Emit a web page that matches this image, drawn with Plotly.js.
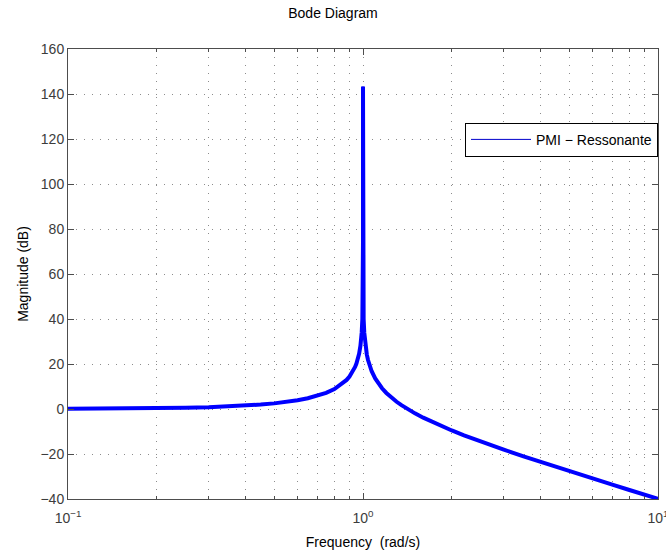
<!DOCTYPE html>
<html>
<head>
<meta charset="utf-8">
<script src="https://cdn.plot.ly/plotly-3.0.1.min.js"></script>
<style>html,body{margin:0;padding:0;background:#fff;}#chart{width:666px;height:551px;}</style>
</head>
<body>
<div id="chart"></div>
<script>
// Frequency points (rad/s) and magnitude (dB)
const freq = [0.1, 0.12, 0.15, 0.2, 0.25, 0.3, 0.35, 0.4, 0.45, 0.5, 0.55, 0.6, 0.65, 0.7, 0.75, 0.8, 0.85, 0.88, 0.9, 0.92, 0.94, 0.95, 0.96, 0.97, 0.98, 0.985, 0.99, 0.995, 0.998, 0.999, 0.9995, 0.9999, 1.0,
              1.0001, 1.0005, 1.001, 1.002, 1.005, 1.01, 1.015, 1.02, 1.03, 1.04, 1.05, 1.07, 1.1, 1.13, 1.16, 1.2, 1.25, 1.3, 1.35, 1.4, 1.45, 1.5, 1.6, 1.7, 1.8, 2.0, 2.2, 2.5, 2.8, 3.0, 3.5, 4.0, 4.5, 5.0, 6.0, 7.0, 8.0, 9.0, 10.0];
const magDb = [0.09, 0.13, 0.2, 0.36, 0.56, 0.82, 1.14, 1.51, 1.97, 2.5, 3.13, 3.88, 4.77, 5.85, 7.18, 8.87, 11.13, 12.93, 14.42, 16.27, 18.68, 20.22, 22.11, 24.57, 28.05, 30.52, 34.02, 40.02, 47.97, 53.98, 60.0, 73.98, 143.3,
              73.98, 60.0, 53.97, 47.95, 39.98, 33.94, 30.39, 27.87, 24.31, 21.77, 19.79, 16.78, 13.56, 11.15, 9.23, 7.13, 5.0, 3.22, 1.7, 0.35, -0.85, -1.94, -3.86, -5.53, -7.0, -9.54, -11.69, -14.4, -16.7, -18.06, -21.02, -23.52, -25.69, -27.6, -30.88, -33.62, -35.99, -38.06, -39.91];
const seriesName = 'PMI \u2212 Ressonante';
const yTicks = [-40, -20, 0, 20, 40, 60, 80, 100, 120, 140, 160];
const xTicks = [0.1, 1, 10];
const xTickText = ['10<sup>\u22121</sup>', '10<sup>0</sup>', '10<sup>1</sup>'];

const gridCol = '#8c8c8c';
const axisCol = '#4d4d4d';
const fam = 'Liberation Sans, Arial, sans-serif';
const tickFont = {family: fam, size: 14, color: '#3c3c3c'};

const traces = [
  {x: freq, y: magDb, type: 'scatter', mode: 'lines', name: seriesName,
   line: {color: '#0000cc', width: 1}, showlegend: true},
  {x: freq, y: magDb, type: 'scatter', mode: 'lines', name: seriesName,
   line: {color: '#0000ff', width: 4}, showlegend: false}
];

const layout = {
  width: 666, height: 551,
  margin: {l: 68, r: 8, t: 49, b: 52},
  paper_bgcolor: '#ffffff', plot_bgcolor: '#ffffff',
  font: {family: fam, size: 14, color: '#000'},
  title: {text: 'Bode Diagram', font: {family: fam, size: 14, color: '#000'}, x: 0.5, xanchor: 'center', y: 0.985, yanchor: 'top'},
  xaxis: {
    type: 'log', range: [-1, 1], tickvals: xTicks, ticktext: xTickText,
    ticklabeloverflow: 'allow', ticklabelstandoff: 6,
    showline: true, linecolor: axisCol, linewidth: 1, mirror: 'ticks',
    ticks: 'inside', ticklen: 6, tickcolor: axisCol,
    showgrid: true, gridcolor: gridCol, griddash: '1px,7px', gridwidth: 1,
    minor: {dtick: 'D1', ticks: 'inside', ticklen: 3, tickcolor: axisCol, showgrid: true, gridcolor: gridCol, griddash: '1px,7px', gridwidth: 1},
    zeroline: false,
    tickfont: tickFont,
    title: {text: 'Frequency  (rad/s)', font: {family: fam, size: 14, color: '#000'}, standoff: 12}
  },
  yaxis: {
    range: [-40, 160], tickvals: yTicks,
    ticktext: yTicks.map(v => v < 0 ? '\u2212' + Math.abs(v) : String(v)),
    showline: true, linecolor: axisCol, linewidth: 1, mirror: 'ticks',
    ticks: 'inside', ticklen: 6, tickcolor: axisCol,
    showgrid: true, gridcolor: gridCol, griddash: '1px,7px', gridwidth: 1,
    zeroline: false,
    tickfont: tickFont,
    title: {text: 'Magnitude (dB)', font: {family: fam, size: 14, color: '#000'}, standoff: 8}
  },
  legend: {
    x: 1, xanchor: 'right', y: 0.836, yanchor: 'top',
    bgcolor: '#ffffff', bordercolor: '#000', borderwidth: 1,
    itemwidth: 60,
    font: {family: fam, size: 14, color: '#000'}
  },
  showlegend: true
};

Plotly.newPlot('chart', traces, layout, {staticPlot: true, displayModeBar: false});
</script>
</body>
</html>
